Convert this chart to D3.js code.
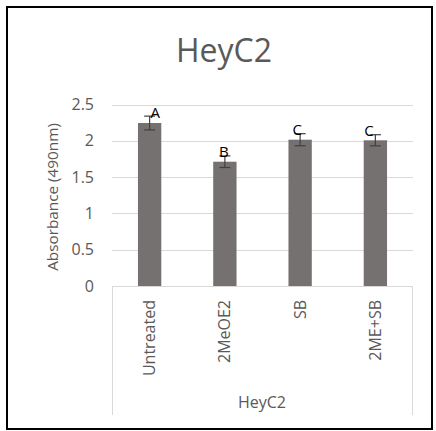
<!DOCTYPE html>
<html>
<head>
<meta charset="utf-8">
<script src="https://cdn.jsdelivr.net/npm/d3@7"></script>
<style>
  body { margin: 0; background: #fff; }
  text { font-family: "Open Sans", sans-serif; }
</style>
</head>
<body>
<svg id="chart" width="436" height="431"></svg>
<script>
// data
var categories = ['Untreated', '2MeOE2', 'SB', '2ME+SB'];
var values = [2.245, 1.712, 2.015, 2.007];
var errors = [0.095, 0.08, 0.083, 0.077];
var letters = ['A', 'B', 'C', 'C'];
var yTicks = [0, 0.5, 1, 1.5, 2, 2.5];
var groupLabel = 'HeyC2';
var title = 'HeyC2';

// layout
var W = 436, H = 431;
var plotL = 112, plotR = 413, plotT = 104.5, plotB = 286;
var letterNudge = [5.5, -1, -3, -6.5];   // hand-placed text boxes in the original

var svg = d3.select('#chart');

svg.append('rect')
    .attr('x', 7).attr('y', 7)
    .attr('width', 425).attr('height', 422)
    .attr('fill', 'white')
    .attr('stroke', 'black')
    .attr('stroke-width', 2);

var x = d3.scaleBand().domain(categories).range([plotL, plotR]).paddingInner(0.69).paddingOuter(0.345);
var y = d3.scaleLinear().domain([0, 2.5]).range([plotB, plotT]);

svg.append('text')
    .attr('x', 224).attr('y', 62)
    .attr('text-anchor', 'middle')
    .attr('font-size', 32)
    .attr('fill', '#595959')
    .text(title);

// gridlines
var gGrid = svg.append('g');
gGrid.selectAll('line')
    .data(yTicks)
    .enter()
    .append('line')
    .attr('x1', plotL).attr('x2', plotR)
    .attr('y1', function(d) { return Math.round(y(d)) + 0.5; })
    .attr('y2', function(d) { return Math.round(y(d)) + 0.5; })
    .attr('stroke', '#d9d9d9')
    .attr('stroke-width', 1);

// y tick labels
var yAxis = d3.axisLeft(y).tickValues(yTicks).tickSize(0).tickPadding(0).tickFormat(d3.format(''));
var gY = svg.append('g').attr('transform', 'translate(94,0)').call(yAxis);
gY.select('.domain').remove();
gY.selectAll('text')
    .attr('font-family', '"Open Sans", sans-serif')
    .attr('font-size', 16)
    .attr('fill', '#595959');

svg.append('text')
    .attr('transform', 'translate(58,197) rotate(-90)')
    .attr('text-anchor', 'middle')
    .attr('font-size', 15.3)
    .attr('fill', '#595959')
    .text('Absorbance (490nm)');

// category box
var gCat = svg.append('g').attr('stroke', '#d9d9d9').attr('stroke-width', 1);
gCat.append('line').attr('x1', plotL + 0.5).attr('x2', plotL + 0.5).attr('y1', plotB).attr('y2', 415);
gCat.append('line').attr('x1', plotR - 0.5).attr('x2', plotR - 0.5).attr('y1', plotB).attr('y2', 415);

// bars
svg.append('g').selectAll('rect')
    .data(values)
    .enter()
    .append('rect')
    .attr('x', function(d, i) { return x(categories[i]); })
    .attr('width', x.bandwidth())
    .attr('y', function(d) { return y(d); })
    .attr('height', function(d) { return plotB - y(d); })
    .attr('fill', '#767171');

// axis line over bars
svg.append('line')
    .attr('x1', plotL).attr('x2', plotR)
    .attr('y1', plotB + 0.5).attr('y2', plotB + 0.5)
    .attr('stroke', '#d9d9d9');

// error bars
var gErr = svg.append('g').attr('stroke', '#404040').attr('stroke-width', 1.2);
values.forEach(function(v, i) {
    var cx = x(categories[i]) + x.bandwidth() / 2;
    var hi = y(v + errors[i]), lo = y(v - errors[i]);
    gErr.append('line').attr('x1', cx).attr('x2', cx).attr('y1', hi).attr('y2', lo);
    gErr.append('line').attr('x1', cx - 5.5).attr('x2', cx + 5.5).attr('y1', hi).attr('y2', hi);
    gErr.append('line').attr('x1', cx - 5.5).attr('x2', cx + 5.5).attr('y1', lo).attr('y2', lo);
});

// significance letters
svg.append('g').selectAll('text')
    .data(letters)
    .enter()
    .append('text')
    .attr('x', function(d, i) { return x(categories[i]) + x.bandwidth() / 2 + letterNudge[i]; })
    .attr('y', function(d, i) { return y(values[i] + errors[i]) + 1.5; })
    .attr('text-anchor', 'middle')
    .attr('font-size', 15)
    .attr('fill', 'black')
    .text(function(d) { return d; });

// category labels
svg.append('g').selectAll('text')
    .data(categories)
    .enter()
    .append('text')
    .attr('transform', function(d) {
        return 'translate(' + (x(d) + x.bandwidth() / 2 + 5.5) + ',300) rotate(-90)';
    })
    .attr('text-anchor', 'end')
    .attr('font-size', 16)
    .attr('fill', '#595959')
    .text(function(d) { return d; });

svg.append('text')
    .attr('x', 262).attr('y', 408)
    .attr('text-anchor', 'middle')
    .attr('font-size', 16)
    .attr('fill', '#595959')
    .text(groupLabel);
</script>
</body>
</html>
